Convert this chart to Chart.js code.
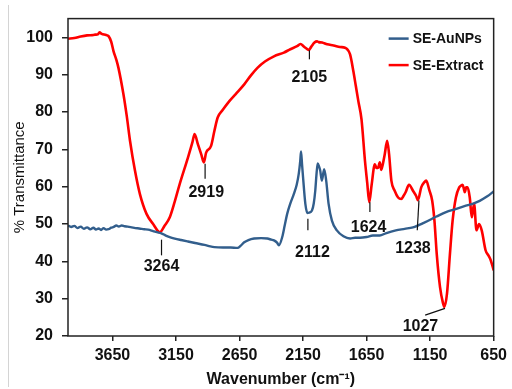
<!DOCTYPE html>
<html>
<head>
<meta charset="utf-8">
<script src="https://cdn.jsdelivr.net/npm/chart.js@4.4.1/dist/chart.umd.min.js"></script>
<style>
  html, body { margin: 0; padding: 0; background: #fff; }
  canvas { display: block; }
</style>
</head>
<body>
<canvas id="ftir" width="512" height="389"></canvas>
<script>
// FTIR spectra: wavenumber (cm-1) vs % transmittance
const wnExtract = [4000, 3950, 3900, 3850, 3800, 3785, 3765, 3752, 3735, 3700, 3681, 3660, 3642, 3620, 3603, 3564, 3538, 3512, 3473, 3434, 3382, 3330, 3277, 3240, 3199, 3160, 3121, 3056, 3020, 3004, 2978, 2950, 2931, 2913, 2874, 2848, 2822, 2783, 2730, 2680, 2613, 2560, 2509, 2450, 2379, 2301, 2250, 2197, 2171, 2140, 2120, 2105, 2085, 2060, 2040, 2027, 2000, 1960, 1910, 1860, 1820, 1800, 1780, 1754, 1735, 1715, 1690, 1663, 1645, 1629, 1611, 1585, 1572, 1559, 1546, 1535, 1525, 1507, 1488, 1473, 1455, 1429, 1402, 1377, 1360, 1343, 1316, 1285, 1260, 1246, 1220, 1195, 1181, 1155, 1134, 1116, 1098, 1072, 1050, 1038, 1017, 994, 973, 947, 921, 905, 895, 885, 877, 866, 855, 838, 822, 804, 785, 765, 744, 713, 690, 673, 650];
const tExtract = [99.6, 99.8, 100.2, 100.5, 100.6, 100.7, 100.8, 101.3, 100.9, 100.6, 100.3, 98.8, 96.3, 94.0, 91.8, 84.8, 79.0, 72.3, 64.3, 58.0, 52.7, 50.0, 47.8, 49.5, 51.8, 56.0, 60.7, 67.8, 72.0, 74.1, 71.4, 68.5, 66.5, 69.1, 70.9, 74.9, 78.5, 80.5, 82.9, 84.8, 87.4, 89.8, 91.8, 93.5, 94.9, 95.9, 96.8, 97.6, 98.2, 97.4, 96.9, 96.6, 97.5, 98.6, 98.9, 98.7, 98.6, 98.1, 97.8, 97.4, 97.2, 96.7, 95.4, 90.9, 87.0, 82.9, 78.0, 67.0, 61.0, 55.8, 60.3, 66.0, 65.0, 65.1, 66.5, 64.5, 65.6, 68.7, 72.3, 68.7, 61.6, 58.9, 57.1, 56.7, 57.5, 58.5, 60.5, 58.9, 57.5, 56.4, 59.8, 61.2, 61.6, 58.9, 56.3, 50.9, 42.0, 33.1, 29.0, 27.8, 31.4, 42.0, 50.9, 57.1, 59.8, 60.3, 60.5, 59.5, 58.5, 59.8, 59.8, 57.1, 51.8, 55.4, 48.3, 50.0, 48.3, 42.9, 41.5, 40.3, 37.6];

const wnAuNPs = [4000, 3975, 3950, 3925, 3900, 3875, 3850, 3825, 3800, 3780, 3759, 3740, 3720, 3700, 3681, 3660, 3640, 3620, 3600, 3577, 3555, 3530, 3499, 3470, 3440, 3400, 3369, 3330, 3300, 3265, 3230, 3200, 3160, 3110, 3056, 3000, 2926, 2880, 2848, 2780, 2720, 2666, 2640, 2613, 2580, 2535, 2480, 2431, 2400, 2379, 2355, 2340, 2314, 2295, 2275, 2250, 2223, 2200, 2184, 2172, 2166, 2158, 2150, 2132, 2115, 2105, 2080, 2066, 2054, 2045, 2035, 2025, 2015, 2002, 1984, 1968, 1949, 1923, 1884, 1832, 1780, 1740, 1702, 1650, 1600, 1546, 1500, 1420, 1350, 1285, 1200, 1100, 1025, 950, 880, 816, 760, 700, 650];
const tAuNPs = [49.6, 49.2, 49.5, 48.9, 49.3, 48.7, 49.1, 48.6, 49.0, 48.5, 48.8, 48.4, 48.9, 48.5, 48.6, 49.0, 49.2, 49.6, 49.3, 49.6, 49.4, 49.3, 49.1, 48.9, 48.8, 48.6, 48.5, 48.1, 47.8, 47.5, 46.9, 46.5, 46.1, 45.7, 45.3, 44.9, 44.4, 44.0, 43.8, 43.7, 43.7, 43.6, 44.2, 45.1, 45.7, 46.1, 46.2, 46.1, 45.8, 45.6, 45.0, 44.3, 46.5, 49.5, 52.7, 55.5, 58.0, 60.5, 63.4, 67.0, 69.4, 66.0, 62.5, 55.4, 52.9, 53.0, 53.6, 55.5, 58.9, 63.0, 66.2, 65.5, 64.3, 61.6, 64.7, 61.6, 55.4, 50.9, 48.3, 46.7, 46.1, 46.3, 46.3, 46.5, 46.9, 46.9, 47.5, 48.3, 48.7, 49.1, 50.3, 52.0, 53.2, 54.0, 54.8, 55.4, 56.2, 57.4, 58.7];

const xTicks = [3650, 3150, 2650, 2150, 1650, 1150, 650];
const yTicks = [20, 30, 40, 50, 60, 70, 80, 90, 100];

// peak callouts: leader line (x1,y1)-(x2,y2) and label centre (tx,ty), all in data units
const peaks = [
    { text: '3264', x1: 3264, y1: 45.8, x2: 3264, y2: 41.6, tx: 3264, ty: 38.7 },
    { text: '2919', x1: 2921, y1: 66.1, x2: 2921, y2: 62.1, tx: 2912, ty: 58.5 },
    { text: '2105', x1: 2100, y1: 96.5, x2: 2100, y2: 94.1, tx: 2100, ty: 89.1 },
    { text: '2112', x1: 2112, y1: 51.4, x2: 2112, y2: 48.3, tx: 2076, ty: 42.3 },
    { text: '1624', x1: 1624, y1: 55.8, x2: 1624, y2: 53.2, tx: 1634, ty: 49.0 },
    { text: '1238', x1: 1238, y1: 56.3, x2: 1251, y2: 48.3, tx: 1285, ty: 43.4 },
    { text: '1027', x1: 1033, y1: 27.4, x2: 1189, y2: 25.6, tx: 1226, ty: 22.5 }
];

const FONT = "'Liberation Sans', Arial, sans-serif";
Chart.defaults.font.family = FONT;
Chart.defaults.color = '#111';

function toPoints(xs, ys) {
    return xs.map((x, i) => ({ x: x, y: ys[i] }));
}

const extras = {
    id: 'extras',
    beforeDraw(chart) {
        const ctx = chart.ctx;
        ctx.save();
        ctx.strokeStyle = '#d4d4d4';
        ctx.lineWidth = 1;
        ctx.beginPath();
        ctx.moveTo(8.5, 5);
        ctx.lineTo(8.5, 387);
        ctx.stroke();
        ctx.restore();
    },
    afterDatasetsDraw(chart) {
        const { ctx, chartArea: a, scales: { x, y } } = chart;
        ctx.save();
        ctx.strokeStyle = '#222';
        ctx.lineWidth = 1.5;
        ctx.strokeRect(a.left, a.top, a.right - a.left, a.bottom - a.top);

        // peak labels
        ctx.strokeStyle = '#111';
        ctx.lineWidth = 1.2;
        ctx.fillStyle = '#111';
        ctx.font = 'bold 16px ' + FONT;
        ctx.textAlign = 'center';
        ctx.textBaseline = 'middle';
        peaks.forEach(p => {
            ctx.beginPath();
            ctx.moveTo(x.getPixelForValue(p.x1), y.getPixelForValue(p.y1));
            ctx.lineTo(x.getPixelForValue(p.x2), y.getPixelForValue(p.y2));
            ctx.stroke();
            ctx.fillText(p.text, x.getPixelForValue(p.tx), y.getPixelForValue(p.ty));
        });

        // legend, top right inside the plot
        ctx.font = 'bold 14px ' + FONT;
        ctx.textAlign = 'left';
        chart.data.datasets.forEach((ds, i) => {
            const ly = a.top + 20 + i * 26.5;
            ctx.strokeStyle = ds.borderColor;
            ctx.lineWidth = 2.5;
            ctx.beginPath();
            ctx.moveTo(a.right - 105, ly);
            ctx.lineTo(a.right - 85, ly);
            ctx.stroke();
            ctx.fillStyle = '#111';
            ctx.fillText(ds.label, a.right - 81, ly + 1);
        });
        ctx.restore();
    }
};

new Chart(document.getElementById('ftir'), {
    type: 'scatter',
    data: {
        datasets: [
            {
                label: 'SE-AuNPs',
                data: toPoints(wnAuNPs, tAuNPs),
                showLine: true,
                borderColor: '#325e8c',
                borderWidth: 2.4,
                pointRadius: 0,
                cubicInterpolationMode: 'monotone'
            },
            {
                label: 'SE-Extract',
                data: toPoints(wnExtract, tExtract),
                showLine: true,
                borderColor: '#ff0000',
                borderWidth: 2.6,
                pointRadius: 0,
                cubicInterpolationMode: 'monotone'
            }
        ]
    },
    options: {
        responsive: false,
        animation: false,
        layout: { padding: { top: 17, right: 14, left: 0, bottom: 0 } },
        plugins: {
            legend: { display: false },
            tooltip: { enabled: false }
        },
        scales: {
            x: {
                type: 'linear',
                reverse: true,
                min: 650,
                max: 4000,
                afterBuildTicks: ax => { ax.ticks = xTicks.map(v => ({ value: v })); },
                afterFit: s => { s.height = 53; },
                grid: { drawOnChartArea: false, drawTicks: true, tickLength: 5, color: '#222', lineWidth: 1.5 },
                border: { display: false },
                ticks: {
                    font: { size: 16, weight: 'bold' },
                    padding: 5,
                    maxRotation: 0,
                    autoSkip: false,
                    callback: v => String(v)
                },
                title: {
                    display: true,
                    text: 'Wavenumber (cm⁻¹)',
                    font: { size: 16, weight: 'bold' },
                    padding: { top: 0, bottom: 0 }
                }
            },
            y: {
                min: 20,
                max: 105,
                afterBuildTicks: ax => { ax.ticks = yTicks.map(v => ({ value: v })); },
                afterFit: s => { s.width = 68; },
                grid: { drawOnChartArea: false, drawTicks: true, tickLength: 6, color: '#222', lineWidth: 1.5 },
                border: { display: false },
                ticks: { font: { size: 16, weight: 'bold' }, padding: 9, callback: v => String(v) },
                title: {
                    display: true,
                    text: '% Transmittance',
                    font: { size: 15 },
                    padding: { top: 11, bottom: 0 }
                }
            }
        }
    },
    plugins: [extras]
});
</script>
</body>
</html>
